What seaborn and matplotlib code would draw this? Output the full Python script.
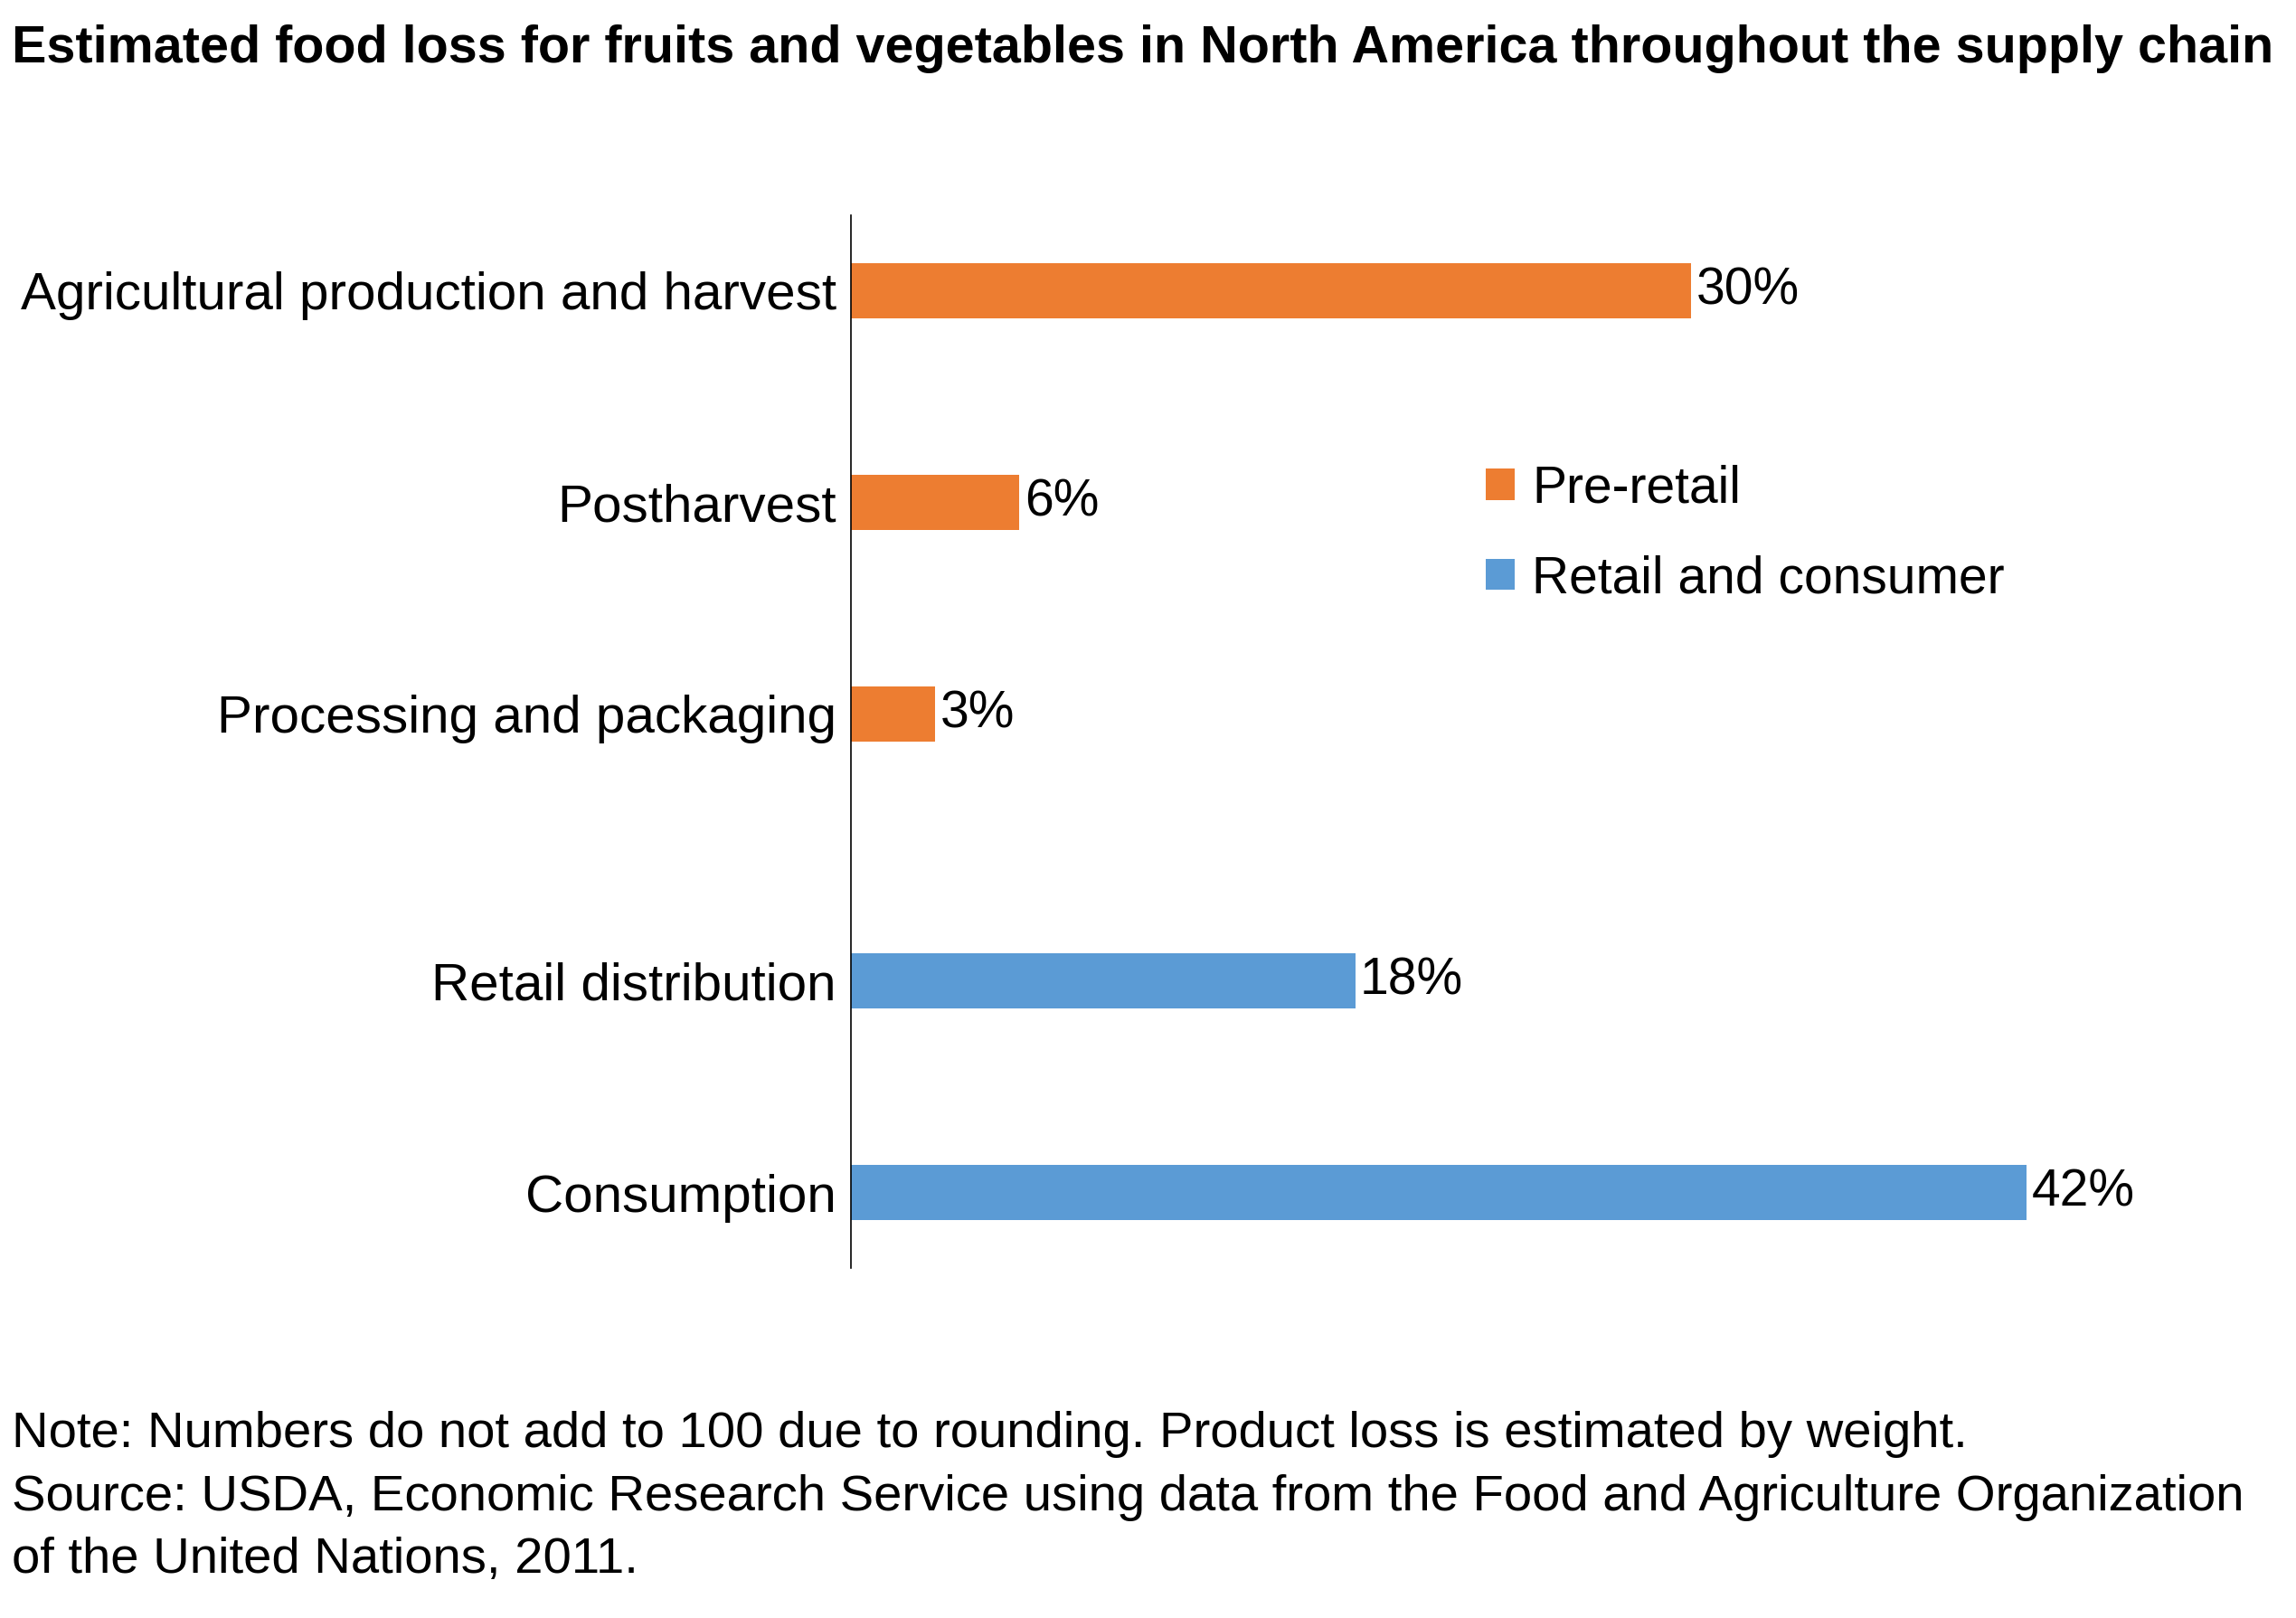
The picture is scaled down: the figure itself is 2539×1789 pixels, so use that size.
import numpy as np
import pandas as pd
import matplotlib.pyplot as plt
import seaborn as sns

stages = ['Agricultural production and harvest', 'Postharvest',
          'Processing and packaging', 'Retail distribution', 'Consumption']
loss_pct = [30, 6, 3, 18, 42]
groups = ['Pre-retail', 'Pre-retail', 'Pre-retail',
          'Retail and consumer', 'Retail and consumer']

sns.set_style('white')
plt.rcParams['font.family'] = ['Liberation Sans', 'DejaVu Sans']
plt.rcParams['text.color'] = 'black'
plt.rcParams['ytick.color'] = 'black'

df = pd.DataFrame({'stage': stages, 'loss': loss_pct, 'group': groups})
# small extra gap between the two groups of stages
gap = 0.26
df['ypos'] = np.arange(len(df)) + np.where(df.group == 'Retail and consumer', gap, 0.0)

fig = plt.figure(figsize=(25.39, 17.89), dpi=100)
ax = fig.add_axes([0.3708, 0.2165, 0.6126, 0.6505])

sns.barplot(df, x='loss', y='ypos', hue='group', orient='h', native_scale=True,
            dodge=False, width=0.26, palette=['#ED7D31', '#5B9BD5'],
            saturation=1, edgecolor='none', ax=ax)

for c in ax.containers:
    ax.bar_label(c, fmt='%d%%', padding=4, fontsize=41, color='black')

ax.set_xlim(0, 50.26)
ax.set_ylim(4 + gap + 0.355, -0.355)
ax.set_yticks(df.ypos, labels=df.stage, fontsize=42)
ax.tick_params(axis='y', length=0, pad=12)
ax.set_xticks([])
ax.set_xlabel('')
ax.set_ylabel('')
for s in ['top', 'right', 'bottom']:
    ax.spines[s].set_visible(False)
ax.spines['left'].set_color('black')
ax.spines['left'].set_linewidth(1.2)

sns.move_legend(ax, loc='center left', bbox_to_anchor=(0.627, 0.670),
                bbox_transform=fig.transFigure, frameon=False, title=None,
                fontsize=41, handlelength=0.55, handleheight=0.55,
                handletextpad=0.35, labelspacing=0.8)

fig.text(0.005, 0.97, 'Estimated food loss for fruits and vegetables in North America throughout the supply chain',
         fontsize=41.4, fontweight='bold', va='center', ha='left')
fig.text(0.005, 0.128,
         'Note: Numbers do not add to 100 due to rounding. Product loss is estimated by weight.\n'
         'Source: USDA, Economic Research Service using data from the Food and Agriculture Organization\n'
         'of the United Nations, 2011.',
         fontsize=40.5, va='top', ha='left', linespacing=1.44)

fig.savefig('out.png', dpi=100)
